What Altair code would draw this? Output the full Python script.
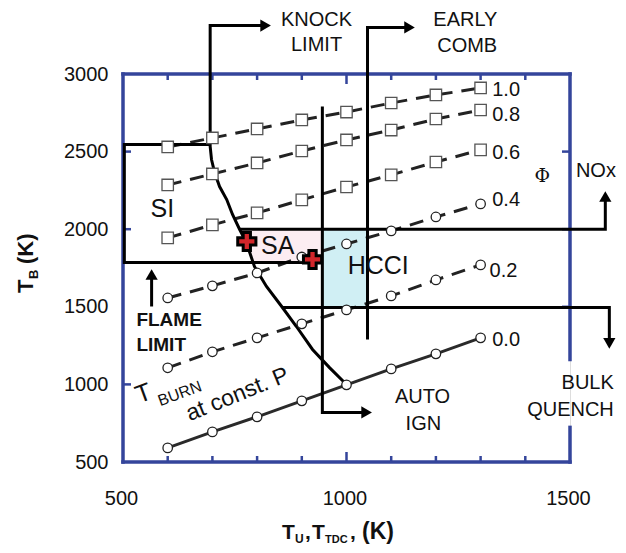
import altair as alt
import pandas as pd

FONT = "Liberation Sans"
INK = "#111111"
FRAME = "#34459b"

# ---------------- data ----------------
tu_grid = [600, 700, 800, 900, 1000, 1100, 1200, 1300]
phi_names = ["1.0", "0.8", "0.6", "0.4", "0.2", "0.0"]
tb_phi_10 = [2530, 2588, 2646, 2704, 2755, 2813, 2865, 2910]
tb_phi_08 = [2285, 2356, 2427, 2504, 2575, 2639, 2710, 2768]
tb_phi_06 = [1944, 2028, 2105, 2189, 2272, 2350, 2433, 2511]
tb_phi_04 = [1557, 1635, 1718, 1821, 1905, 1989, 2079, 2163]
tb_phi_02 = [1107, 1210, 1300, 1390, 1480, 1570, 1673, 1770]
tb_phi_00 = [591, 694, 791, 894, 997, 1100, 1197, 1300]
phi_series = [tb_phi_10, tb_phi_08, tb_phi_06, tb_phi_04, tb_phi_02, tb_phi_00]
phi_markers = ["square", "square", "square", "circle", "circle", "circle"]
phi_label_x = [1326, 1326, 1326, 1326, 1320, 1326]
phi_label_y = [2894, 2739, 2488, 2185, 1728, 1283]

# boundary lines (x = T_U, y = T_B)
knock_x = [819, 695, 695, 698, 705, 716, 732, 745, 761, 776, 794, 821, 855, 888, 924, 962, 1000]
knock_y = [3312, 3312, 2533, 2449, 2365, 2275, 2191, 2095, 1998, 1914, 1760, 1631, 1502, 1373, 1225, 1108, 999]
early_x = [1141, 1047, 1047]
early_y = [3300, 3300, 1289]
auto_x = [946, 946, 1045]
auto_y = [2791, 819, 819]
nox_x = [761, 1579, 1579]
nox_y = [2000, 2000, 2211]
bulk_x = [857, 1588, 1588]
bulk_y = [1495, 1495, 1264]
flame_x = [564, 564]
flame_y = [1502, 1708]
si_x = [695, 503, 503, 920]
si_y = [2546, 2546, 1785, 1785]

arrow_x = [819, 1141, 1045, 1579, 1588, 564]
arrow_y = [3312, 3300, 819, 2211, 1264, 1708]
arrow_shape = ["triangle-right", "triangle-right", "triangle-right", "triangle-up", "triangle-down", "triangle-up"]

# regions
sa_y = [2000, 1914, 1785]
sa_x = [761, 776, 791]
sa_x2 = [946, 946, 946]
hcci_x, hcci_x2, hcci_y, hcci_y2 = [946], [1047], [1495], [2000]
sa_pts_x = [777, 924]
sa_pts_y = [1921, 1805]

# frame
frame_x = [500, 500, 500, 1500, 1500]
frame_x2 = [1500, 1500, 500, 1500, 1500]
frame_y = [500, 3000, 500, 3000, 723]
frame_y2 = [500, 3000, 3000, 1161, 500]
x_minor_ticks = [600, 700, 800, 900, 1100, 1200, 1300, 1400]
x_major_ticks = [1000]
y_left_ticks = [1000, 2000, 2500]
y_right_ticks = [1500, 2000, 2500]
x_tick_labels = [500, 1000, 1500]
y_tick_labels = [500, 1000, 1500, 2000, 2500, 3000]

# ---------------- tables ----------------
rows = []
for name, ys, mk in zip(phi_names, phi_series, phi_markers):
    for x, y in zip(tu_grid, ys):
        rows.append({"phi": name, "x": x, "y": y, "marker": mk})
phi_df = pd.DataFrame(rows)

paths = {"knock": (knock_x, knock_y), "early": (early_x, early_y), "auto": (auto_x, auto_y),
         "nox": (nox_x, nox_y), "bulk": (bulk_x, bulk_y), "flame": (flame_x, flame_y),
         "si": (si_x, si_y)}
prow = []
for k, (xs, ys) in paths.items():
    for i, (x, y) in enumerate(zip(xs, ys)):
        prow.append({"path": k, "o": i, "x": x, "y": y})
path_df = pd.DataFrame(prow)

W, H = 447, 388
sx = alt.Scale(domain=[500, 1500], nice=False, zero=False)
sy = alt.Scale(domain=[500, 3000], nice=False, zero=False)
x_axis = alt.Axis(values=x_tick_labels, domain=False, ticks=False, grid=False, title=None, format="d",
                  labelFontSize=20, labelFont=FONT, labelColor=INK, labelPadding=26,
                  labelOverlap=False, labelFlush=False, labelOffset=-2)
y_axis = alt.Axis(values=y_tick_labels, domain=False, ticks=False, grid=False, title=None, format="d",
                  labelFontSize=20, labelFont=FONT, labelColor=INK, labelPadding=15,
                  labelOverlap=False, labelFlush=False)
X = alt.X("x:Q", scale=sx, axis=x_axis)
Y = alt.Y("y:Q", scale=sy, axis=y_axis)

layers = []

# regions
sa_df = pd.DataFrame({"y": sa_y, "x": sa_x, "x2": sa_x2})
layers.append(alt.Chart(sa_df).mark_area(orient="horizontal", color="#fcedf2").encode(
    y=Y, x=X, x2="x2:Q"))
hc_df = pd.DataFrame({"x": hcci_x, "x2": hcci_x2, "y": hcci_y, "y2": hcci_y2})
layers.append(alt.Chart(hc_df).mark_rect(color="#d0eff4").encode(x=X, x2="x2:Q", y=Y, y2="y2:Q"))

# frame
fr_df = pd.DataFrame({"x": frame_x, "x2": frame_x2, "y": frame_y, "y2": frame_y2})
layers.append(alt.Chart(fr_df).mark_rule(color=FRAME, strokeWidth=3.5, strokeCap="square").encode(
    x=X, x2="x2:Q", y=Y, y2="y2:Q"))
tk = dict(color=FRAME, strokeWidth=2.5)
layers.append(alt.Chart(pd.DataFrame({"x": x_minor_ticks})).mark_rule(**tk).encode(
    x=X, y=alt.value(H), y2=alt.value(H - 6)))
layers.append(alt.Chart(pd.DataFrame({"x": x_minor_ticks})).mark_rule(**tk).encode(
    x=X, y=alt.value(0), y2=alt.value(6)))
layers.append(alt.Chart(pd.DataFrame({"x": x_major_ticks})).mark_rule(**tk).encode(
    x=X, y=alt.value(H), y2=alt.value(H - 10)))
layers.append(alt.Chart(pd.DataFrame({"x": x_major_ticks})).mark_rule(**tk).encode(
    x=X, y=alt.value(0), y2=alt.value(10)))
layers.append(alt.Chart(pd.DataFrame({"y": y_left_ticks})).mark_rule(**tk).encode(
    y=Y, x=alt.value(0), x2=alt.value(8)))
layers.append(alt.Chart(pd.DataFrame({"y": y_right_ticks})).mark_rule(**tk).encode(
    y=Y, x=alt.value(W), x2=alt.value(W - 8)))

# phi lines
layers.append(alt.Chart(phi_df[phi_df.phi != "0.0"]).mark_line(
    color="#222222", strokeWidth=3, strokeDash=[14, 9]).encode(x=X, y=Y, detail="phi:N"))
layers.append(alt.Chart(phi_df[phi_df.phi == "0.0"]).mark_line(
    color="#2a2a2a", strokeWidth=3).encode(x=X, y=Y))

# boundary lines
layers.append(alt.Chart(path_df).mark_line(color="#000000", strokeWidth=3, clip=False).encode(
    x=X, y=Y, detail="path:N", order="o:Q"))
ar_df = pd.DataFrame({"x": arrow_x, "y": arrow_y, "shape": arrow_shape})
layers.append(alt.Chart(ar_df).mark_point(filled=True, color="#000000", size=150, opacity=1, clip=False).encode(
    x=X, y=Y, shape=alt.Shape("shape:N", scale=None)))

# markers
layers.append(alt.Chart(phi_df[phi_df.marker == "square"]).mark_point(
    shape="square", size=130, fill="white", stroke="#555555", strokeWidth=1.3, opacity=1, filled=False,
    fillOpacity=1).encode(x=X, y=Y))
layers.append(alt.Chart(phi_df[phi_df.marker == "circle"]).mark_point(
    shape="circle", size=90, fill="white", stroke="#222222", strokeWidth=1.3, opacity=1, filled=False,
    fillOpacity=1).encode(x=X, y=Y))

# SA crosses
layers.append(alt.Chart(pd.DataFrame({"x": sa_pts_x, "y": sa_pts_y})).mark_point(
    shape="cross", size=330, fill="#d3262b", stroke="#000000", strokeWidth=3, opacity=1,
    fillOpacity=1).encode(x=X, y=Y))


def text_layer(items, **kw):
    df = pd.DataFrame(items, columns=["x", "y", "t"])
    base = dict(font=FONT, color=INK, clip=False)
    base.update(kw)
    return alt.Chart(df).mark_text(**base).encode(x=X, y=Y, text="t:N")


layers.append(text_layer([(933, 3345, "KNOCK"), (933, 3190, "LIMIT"),
                          (1266, 3345, "EARLY"), (1270, 3180, "COMB"),
                          (1558, 2378, "NOx"), (1170, 922, "AUTO"), (1172, 748, "IGN")],
                         fontSize=20, align="center", baseline="middle"))
layers.append(text_layer([(1598, 1012, "BULK"), (1598, 832, "QUENCH")],
                         fontSize=20, align="right", baseline="middle"))
layers.append(text_layer(list(zip(phi_label_x, phi_label_y, phi_names)),
                         fontSize=20, align="left", baseline="middle"))
layers.append(text_layer([(1438, 2346, "\u03a6")], font="DejaVu Serif", fontSize=19,
                         align="center", baseline="middle"))
layers.append(text_layer([(588, 2127, "SI"), (846, 1889, "SA"), (1071, 1766, "HCCI")],
                         fontSize=25, align="center", baseline="middle"))
layers.append(text_layer([(530, 1418, "FLAME"), (530, 1251, "LIMIT")],
                         fontSize=19, fontWeight="bold", align="left", baseline="middle"))
layers.append(text_layer([(546, 942, "T")], fontSize=25, angle=340, align="center", baseline="middle"))
layers.append(text_layer([(627, 940, "BURN")], fontSize=16, angle=340, align="center", baseline="middle"))
layers.append(text_layer([(756, 935, "at const. P")], fontSize=23, angle=338, align="center", baseline="middle"))


def px_text(px, py, t, size, **kw):
    df = pd.DataFrame({"t": [t]})
    base = dict(font=FONT, color=INK, fontWeight="bold", fontSize=size, align="left",
                baseline="alphabetic", clip=False)
    base.update(kw)
    return alt.Chart(df).mark_text(**base).encode(x=alt.value(px), y=alt.value(py), text="t:N")


# x title  T_U, T_TDC, (K)
layers.append(px_text(159, 465, "T", 21))
layers.append(px_text(172, 469, "U", 12))
layers.append(px_text(182, 465, ",", 21))
layers.append(px_text(189, 465, "T", 21))
layers.append(px_text(202, 469, "TDC", 11))
layers.append(px_text(227, 465, ",", 21))
layers.append(px_text(239, 465, "(K)", 23))
# y title  T_B (K)
layers.append(px_text(-90, 219, "T", 22, angle=270))
layers.append(px_text(-85, 205, "B", 13, angle=270))
layers.append(px_text(-90, 190, "(K)", 22, angle=270))

chart = alt.layer(*layers).properties(
    width=W, height=H, autosize="none",
    padding={"left": 115, "top": 66, "right": 48, "bottom": 83},
).configure_view(stroke=None).configure(background="white")

chart.save("out.html", embed_options={"renderer": "svg", "actions": False})
